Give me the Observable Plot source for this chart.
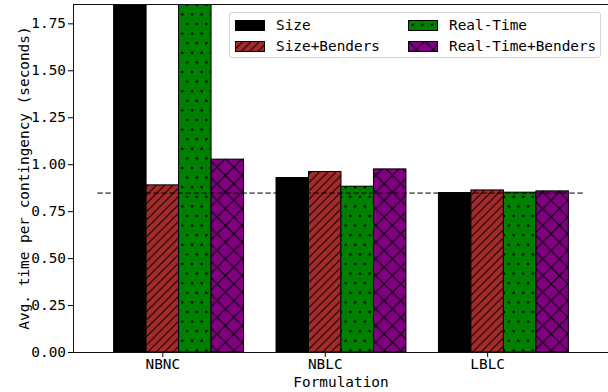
<!DOCTYPE html>
<html>
<head>
<meta charset="utf-8">
<script src="https://cdn.jsdelivr.net/npm/d3@7"></script>
<script src="https://cdn.jsdelivr.net/npm/@observablehq/plot@0.6"></script>
<style>
  body { margin: 0; background: #fff; }
  #chart { position: relative; width: 608px; height: 392px; font-family: "DejaVu Sans Mono", monospace; font-size: 14.4px; color: #000; }
  #chart .lbl { position: absolute; white-space: nowrap; transform: translate(-50%, -50%); line-height: 1; }
  #chart .ylbl { transform: translate(-50%, -50%) rotate(-90deg); }
  #legend { position: absolute; left: 229px; top: 12px; width: 370px; height: 44px; border: 1px solid #d4d4d4; border-radius: 3px; background: rgba(255,255,255,0.8); }
  #legend .item { position: absolute; display: flex; align-items: center; height: 12px; }
  #legend svg { display: block; }
  #legend span { margin-left: 11px; white-space: nowrap; line-height: 1; }
</style>
</head>
<body>
<div id="chart"></div>
<script>
// Average time per contingency, by formulation and solution method
const formulations = ["NBNC", "NBLC", "LBLC"];
const seriesNames = ["Size", "Size+Benders", "Real-Time", "Real-Time+Benders"];
const sizeTimes = [2.60, 0.929, 0.849];
const sizeBendersTimes = [0.890, 0.961, 0.863];
const realTimeTimes = [2.40, 0.883, 0.851];
const realTimeBendersTimes = [1.027, 0.975, 0.858];
const referenceTime = 0.849;
const yTicks = [0, 0.25, 0.5, 0.75, 1.0, 1.25, 1.5, 1.75];
const yMax = 1.853;

const seriesValues = [sizeTimes, sizeBendersTimes, realTimeTimes, realTimeBendersTimes];
const seriesColors = ["#000000", "#a52a2a", "#008000", "#800080"];
const seriesHatch = ["solid", "slash", "dots", "cross"];

// Hatch fills shared by the bars and the legend swatches
function patternMarkup(id, color, hatch) {
  if (hatch === "slash") {
    const s = 8.33;
    return `<pattern id="${id}" patternUnits="userSpaceOnUse" width="${s}" height="${s}">
      <rect width="${s}" height="${s}" fill="${color}"/>
      <path d="M0,${s} L${s},0 M-1,1 L1,-1 M${s-1},${s+1} L${s+1},${s-1}" stroke="#000" stroke-width="1"/>
    </pattern>`;
  }
  if (hatch === "dots") {
    const s = 9.6;
    return `<pattern id="${id}" patternUnits="userSpaceOnUse" width="${s}" height="${2*s}">
      <rect width="${s}" height="${2*s}" fill="${color}"/>
      <circle cx="${s/2}" cy="${s/2}" r="1.3" fill="#000"/>
      <circle cx="0" cy="${1.5*s}" r="1.3" fill="#000"/>
      <circle cx="${s}" cy="${1.5*s}" r="1.3" fill="#000"/>
    </pattern>`;
  }
  if (hatch === "cross") {
    const s = 16.7;
    return `<pattern id="${id}" patternUnits="userSpaceOnUse" width="${s}" height="${s}">
      <rect width="${s}" height="${s}" fill="${color}"/>
      <path d="M0,${s} L${s},0 M0,0 L${s},${s} M-1,1 L1,-1 M${s-1},${s+1} L${s+1},${s-1} M-1,${s-1} L1,${s+1} M${s-1},-1 L${s+1},1" stroke="#000" stroke-width="1"/>
    </pattern>`;
  }
  return `<pattern id="${id}" patternUnits="userSpaceOnUse" width="4" height="4"><rect width="4" height="4" fill="${color}"/></pattern>`;
}
const defs = document.createElementNS("http://www.w3.org/2000/svg", "svg");
defs.setAttribute("width", 0);
defs.setAttribute("height", 0);
defs.style.position = "absolute";
defs.innerHTML = `<defs>${seriesNames.map((n, i) => patternMarkup("fill" + i, seriesColors[i], seriesHatch[i])).join("")}</defs>`;
document.body.prepend(defs);

// Bar slots: each formulation gets one slot per series plus a gap slot
const slotsPerGroup = seriesNames.length + 1;
const rows = [];
formulations.forEach((f, gi) => {
  seriesNames.forEach((s, si) => {
    rows.push({formulation: f, series: si, slot: gi * slotsPerGroup + si, value: seriesValues[si][gi]});
  });
});
const tickSlots = formulations.map((f, gi) => gi * slotsPerGroup + 1);
const firstSlot = 0;
const lastSlot = (formulations.length - 1) * slotsPerGroup + seriesNames.length - 1;
const lineStart = firstSlot - 1;
const lineEnd = lastSlot + 1;
const pad = 0.05 * (lineEnd - lineStart);
const xMin = lineStart - pad, xMax = lineEnd + pad;

const chart = Plot.plot({
  width: 608,
  height: 392,
  marginLeft: 73,
  marginRight: 0,
  marginTop: 4,
  marginBottom: 40,
  style: {fontFamily: "DejaVu Sans Mono", fontSize: "14.4px", color: "#000", background: "#fff", overflow: "visible"},
  x: {domain: [xMin, xMax], range: [73, 73 + (608 - 73) * (xMax - xMin) / (14.72 - xMin)], ticks: tickSlots, tickFormat: d => formulations[tickSlots.indexOf(d)], tickSize: 5, tickPadding: 1.5, label: null},
  y: {domain: [0, yMax], ticks: yTicks, tickFormat: d => d.toFixed(2), tickSize: 5, tickPadding: 2.5, label: null},
  marks: [
    ...seriesNames.map((name, si) =>
      Plot.rectY(rows.filter(d => d.series === si), {
        x1: d => d.slot - 0.5,
        x2: d => d.slot + 0.5,
        y: "value",
        fill: `url(#fill${si})`,
        stroke: "#000",
        strokeWidth: 1,
        clip: true
      })
    ),
    Plot.ruleY([referenceTime], {x1: lineStart, x2: lineEnd, stroke: "#000", strokeWidth: 1, strokeDasharray: "5.5,2.5"}),
    Plot.ruleY([0, yMax], {stroke: "#111", strokeWidth: 1}),
    Plot.ruleX([xMin], {stroke: "#111", strokeWidth: 1})
  ]
});

const root = document.getElementById("chart");
root.appendChild(chart);

// Axis titles
const ylab = document.createElement("div");
ylab.className = "lbl ylbl";
ylab.style.left = "24px";
ylab.style.top = "178px";
ylab.textContent = "Avg. time per contingency (seconds)";
root.appendChild(ylab);

const xlab = document.createElement("div");
xlab.className = "lbl";
xlab.style.left = "341px";
xlab.style.top = "381.5px";
xlab.textContent = "Formulation";
root.appendChild(xlab);

// Legend, two columns
const legend = document.createElement("div");
legend.id = "legend";
const colLeft = [5, 178];
const rowTop = [6, 27];
const legendOrder = [0, 2, 1, 3];
legendOrder.forEach((si, k) => {
  const col = k % 2, row = Math.floor(k / 2);
  const item = document.createElement("div");
  item.className = "item";
  item.style.left = colLeft[col] + "px";
  item.style.top = rowTop[row] + "px";
  item.innerHTML = `<svg width="30" height="11"><rect x="0.5" y="0.5" width="29" height="10" fill="url(#fill${si})" stroke="#000" stroke-width="1"/></svg><span>${seriesNames[si]}</span>`;
  legend.appendChild(item);
});
root.appendChild(legend);
</script>
</body>
</html>
